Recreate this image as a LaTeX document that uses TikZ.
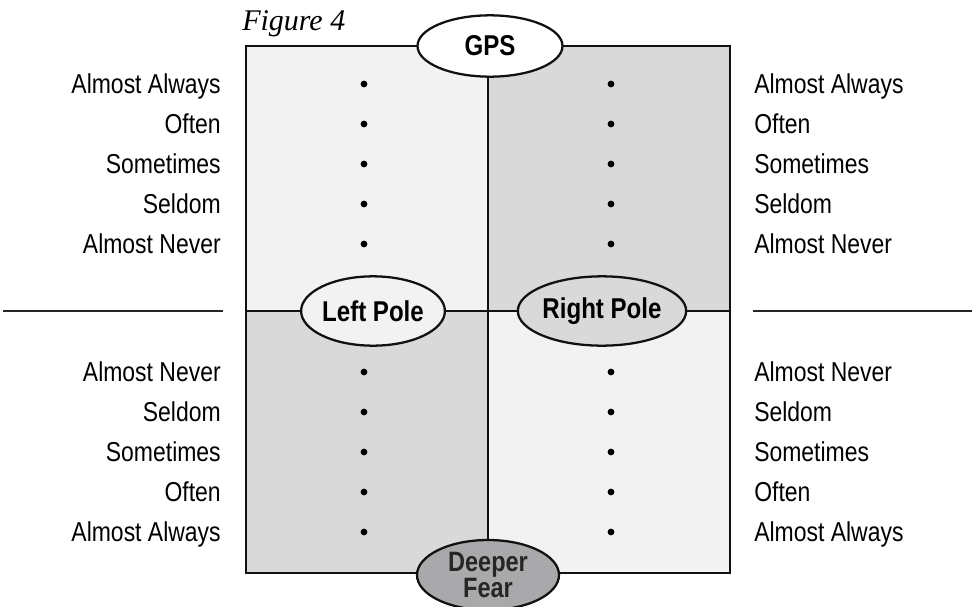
\documentclass[tikz,border=0pt]{standalone}
\usepackage{fontspec}
\setmainfont{Liberation Sans}[FakeStretch=0.84]
\newfontfamily\figfont{Liberation Serif}
\usetikzlibrary{shapes.geometric}
\definecolor{qlight}{HTML}{F2F2F2}
\definecolor{qdark}{HTML}{D9D9D9}
\definecolor{qfear}{HTML}{A9A9AB}
\definecolor{lineblk}{HTML}{111111}
\tikzset{
  lbl/.style={inner sep=0pt, font=\fontsize{20.5}{23}\selectfont},
  lblL/.style={lbl, anchor=base east},
  lblR/.style={lbl, anchor=base west},
  pole/.style={ellipse, draw=lineblk, line width=1.7pt, inner sep=0pt,
    font=\bfseries\fontsize{21.5}{23}\selectfont},
  boxline/.style={draw=lineblk, line width=1.9pt},
  sideline/.style={draw=black!85, line width=1.6pt},
  dotmark/.style={fill=black}
}
\begin{document}
\begin{tikzpicture}[x=0.75pt,y=-0.75pt]
\useasboundingbox (0,0) rectangle (975,607);
% quadrants
\fill[qlight] (246,46) rectangle (488,311);
\fill[qdark]  (488,46) rectangle (730,311);
\fill[qdark]  (246,311) rectangle (488,573);
\fill[qlight] (488,311) rectangle (730,573);
% frame and cross
\coordinate (tl) at (246,46);
\coordinate (br) at (730,573);
\coordinate (ml) at (246,311);
\coordinate (mr) at (730,311);
\draw[boxline] (tl) rectangle (br);
\coordinate (ctop) at (488,46);
\coordinate (cbot) at (488,573);
\draw[boxline] (ctop) -- (cbot);
\draw[boxline] (ml) -- (mr);
% side lines
\coordinate (sl1) at (3,311);
\coordinate (sl2) at (223,311);
\coordinate (sr1) at (753,311);
\coordinate (sr2) at (972,311);
\draw[sideline] (sl1) -- (sl2);
\draw[sideline] (sr1) -- (sr2);
% ellipses
\node[pole, fill=white, minimum width=108.75pt, minimum height=46pt] (gps) at (490,46) {GPS};
\node[pole, fill=qlight, minimum width=103.5pt, minimum height=52pt] (lp) at (373,311) {Left Pole};
\node[pole, fill=qdark, minimum width=105pt, minimum height=52pt] (rp) at (602,311) {Right Pole};
\node[pole, fill=qfear, minimum width=106.5pt, minimum height=52.5pt, align=center,
  text=black!85, font=\bfseries\fontsize{21}{18.5}\selectfont] (df) at (488,575) {Deeper\\Fear};
% figure caption
\node[anchor=base west, inner sep=0pt, font=\figfont\itshape\fontsize{22.5}{24}\selectfont] (fig) at (242,30) {Figure 4};
% dots
\foreach \yy [count=\i] in {84,124,164,204,244,372,412,452,492,532} {
  \fill[dotmark] (364,\yy) circle (3.4);
  \fill[dotmark] (611,\yy) circle (3.4);
}
% left labels
\node[lblL] (l1) at (221,93.5) {Almost Always};
\node[lblL] (l2) at (221,133.5) {Often};
\node[lblL] (l3) at (221,173.5) {Sometimes};
\node[lblL] (l4) at (221,213.5) {Seldom};
\node[lblL] (l5) at (221,253.5) {Almost Never};
\node[lblL] (l6) at (221,381.5) {Almost Never};
\node[lblL] (l7) at (221,421.5) {Seldom};
\node[lblL] (l8) at (221,461.5) {Sometimes};
\node[lblL] (l9) at (221,501.5) {Often};
\node[lblL] (l10) at (221,541.5) {Almost Always};
% right labels
\node[lblR] (r1) at (754,93.5) {Almost Always};
\node[lblR] (r2) at (754,133.5) {Often};
\node[lblR] (r3) at (754,173.5) {Sometimes};
\node[lblR] (r4) at (754,213.5) {Seldom};
\node[lblR] (r5) at (754,253.5) {Almost Never};
\node[lblR] (r6) at (754,381.5) {Almost Never};
\node[lblR] (r7) at (754,421.5) {Seldom};
\node[lblR] (r8) at (754,461.5) {Sometimes};
\node[lblR] (r9) at (754,501.5) {Often};
\node[lblR] (r10) at (754,541.5) {Almost Always};
\end{tikzpicture}
\end{document}
